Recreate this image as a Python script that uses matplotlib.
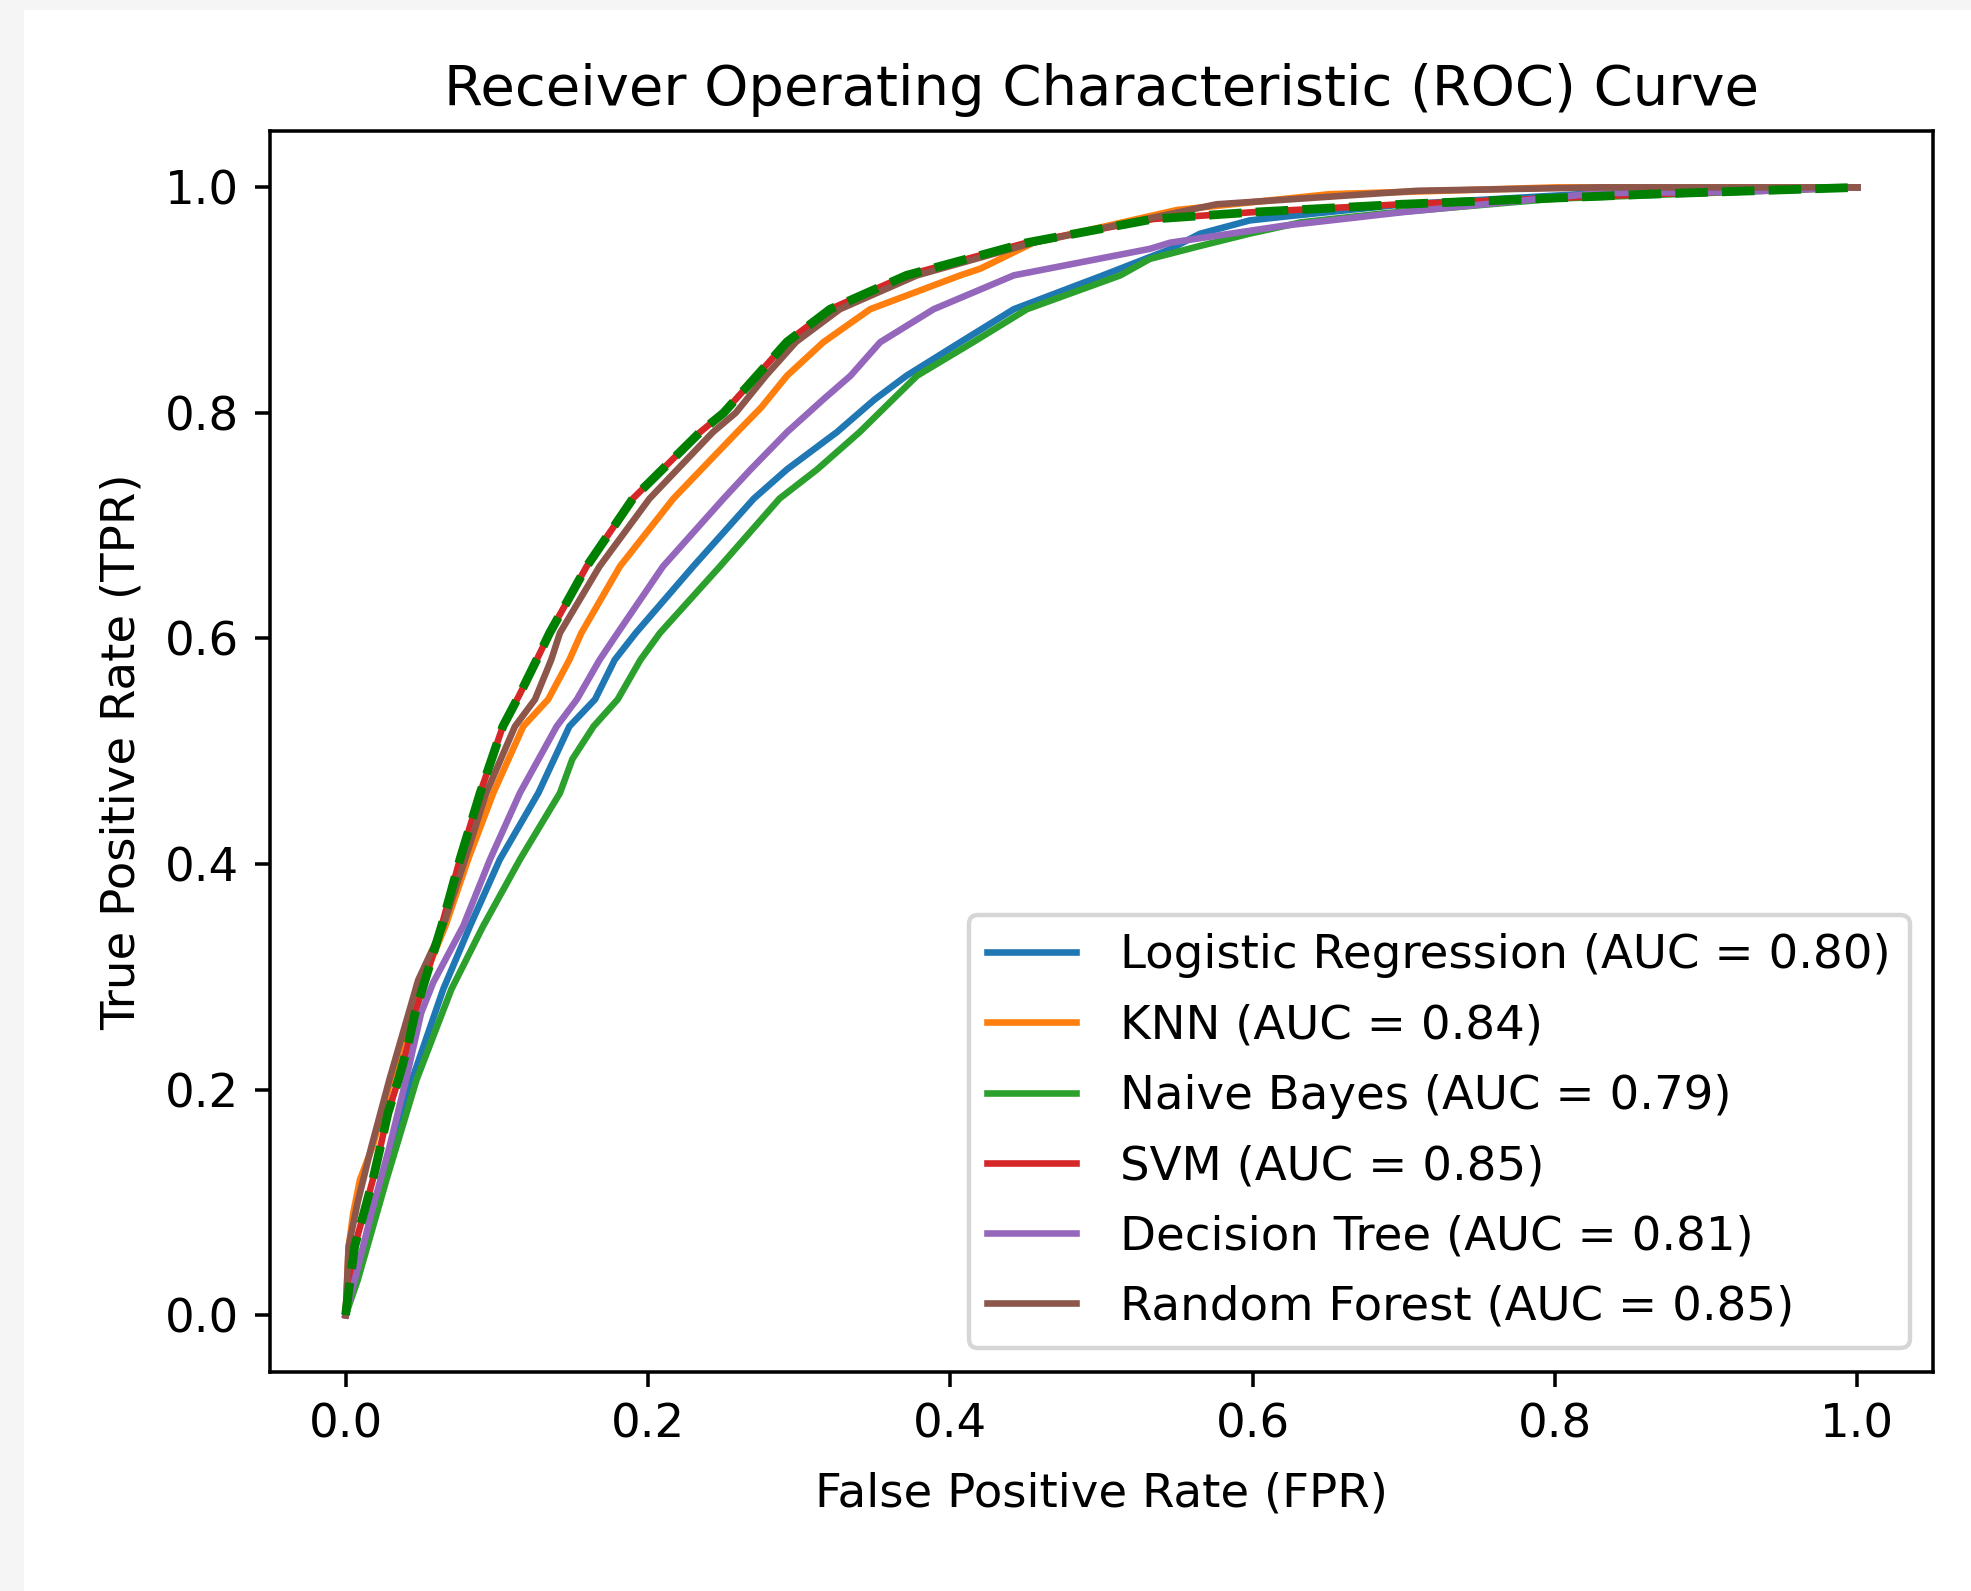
import matplotlib
matplotlib.use("Agg")
import matplotlib.pyplot as plt
from matplotlib.patches import Rectangle

# ---- data ----
lr_fpr = [0, 0.006, 0.018, 0.031, 0.044, 0.0646, 0.0823, 0.102, 0.1275, 0.148, 0.165, 0.178, 0.192,
          0.230, 0.270, 0.292, 0.325, 0.350, 0.371, 0.4066, 0.442, 0.501, 0.545, 0.565, 0.598, 0.6205,
          0.70, 0.83, 1.0]
lr_tpr = [0, 0.031, 0.090, 0.149, 0.209, 0.289, 0.345, 0.404, 0.463, 0.522, 0.546, 0.581, 0.605,
          0.664, 0.724, 0.750, 0.783, 0.812, 0.833, 0.8627, 0.892, 0.922, 0.945, 0.9588, 0.9707, 0.974,
          0.985, 0.995, 1.0]

knn_fpr = [0, 0.002, 0.005, 0.0095, 0.018, 0.030, 0.049, 0.066, 0.081, 0.0977, 0.1175, 0.134, 0.148,
           0.156, 0.1815, 0.2168, 0.259, 0.275, 0.292, 0.316, 0.347, 0.4066, 0.42, 0.455, 0.55, 0.651,
           0.80, 1.0]
knn_tpr = [0, 0.06, 0.09, 0.12, 0.15, 0.209, 0.29, 0.345, 0.404, 0.463, 0.522, 0.546, 0.581,
           0.605, 0.664, 0.724, 0.783, 0.805, 0.833, 0.8627, 0.892, 0.922, 0.928, 0.951, 0.98, 0.994,
           1.0, 1.0]

nb_fpr = [0, 0.008, 0.027, 0.047, 0.070, 0.091, 0.1153, 0.1418, 0.150, 0.164, 0.180, 0.195, 0.208,
          0.2477, 0.287, 0.312, 0.340, 0.362, 0.378, 0.415, 0.4507, 0.5125, 0.532, 0.565, 0.598,
          0.632, 0.687, 0.80, 1.0]
nb_tpr = [0, 0.031, 0.120, 0.209, 0.289, 0.345, 0.404, 0.463, 0.493, 0.522, 0.546, 0.581, 0.605,
          0.664, 0.724, 0.750, 0.783, 0.812, 0.833, 0.8627, 0.892, 0.922, 0.9366, 0.948, 0.959,
          0.969, 0.977, 0.990, 1.0]

svm_fpr = [0, 0.003, 0.006, 0.012, 0.018, 0.023, 0.028, 0.035, 0.041, 0.046, 0.051, 0.0635, 0.0756,
           0.089, 0.104, 0.115, 0.126, 0.135, 0.1595, 0.190, 0.2345, 0.250, 0.272, 0.292, 0.3205,
           0.371, 0.4507, 0.5345, 0.60, 0.698, 0.863, 1.0]
svm_tpr = [0, 0.031, 0.061, 0.090, 0.120, 0.149, 0.179, 0.209, 0.238, 0.268, 0.290, 0.345, 0.404,
           0.463, 0.522, 0.550, 0.580, 0.605, 0.664, 0.724, 0.783, 0.800, 0.833, 0.863, 0.892,
           0.922, 0.951, 0.972, 0.978, 0.985, 0.994, 1.0]

dt_fpr = [0, 0.006, 0.017, 0.029, 0.040, 0.050, 0.058, 0.0778, 0.0955, 0.1153, 0.1396, 0.153, 0.168,
          0.180, 0.210, 0.250, 0.268, 0.292, 0.316, 0.334, 0.3536, 0.389, 0.442, 0.532, 0.5455,
          0.6205, 0.699, 0.83, 0.92, 1.0]
dt_tpr = [0, 0.031, 0.090, 0.149, 0.209, 0.268, 0.295, 0.345, 0.404, 0.463, 0.522, 0.546, 0.581,
          0.605, 0.664, 0.724, 0.750, 0.783, 0.812, 0.833, 0.8627, 0.892, 0.922, 0.9455, 0.951,
          0.966, 0.978, 0.995, 0.996, 1.0]

rf_fpr = [0, 0.002, 0.008, 0.017, 0.029, 0.048, 0.0646, 0.079, 0.093, 0.112, 0.1253, 0.136, 0.1418,
          0.168, 0.201, 0.243, 0.258, 0.278, 0.298, 0.327, 0.378, 0.455, 0.576, 0.709, 0.83, 1.0]
rf_tpr = [0, 0.061, 0.10, 0.149, 0.209, 0.297, 0.345, 0.404, 0.463, 0.522, 0.546, 0.581, 0.605,
          0.664, 0.724, 0.783, 0.800, 0.833, 0.863, 0.892, 0.922, 0.951, 0.985, 0.997, 1.0, 1.0]

# unlabeled green dashed curve (lies on the SVM curve)
extra_fpr = list(svm_fpr)
extra_tpr = list(svm_tpr)

labels = ["Logistic Regression (AUC = 0.80)", "KNN (AUC = 0.84)", "Naive Bayes (AUC = 0.79)",
          "SVM (AUC = 0.85)", "Decision Tree (AUC = 0.81)", "Random Forest (AUC = 0.85)"]
curves = [(lr_fpr, lr_tpr), (knn_fpr, knn_tpr), (nb_fpr, nb_tpr),
          (svm_fpr, svm_tpr), (dt_fpr, dt_tpr), (rf_fpr, rf_tpr)]
colors = ["tab:blue", "tab:orange", "tab:green", "tab:red", "tab:purple", "tab:brown"]

plt.rcParams["font.size"] = 10.6

DPI = 317
fig = plt.figure(figsize=(1971 / DPI, 1591 / DPI), dpi=DPI, facecolor="#f5f5f5")
bg = Rectangle((24 / 1971, 0), 1 - 24 / 1971, 1 - 10 / 1591,
               transform=fig.transFigure, facecolor="white", edgecolor="none", zorder=-10)
fig.patches.append(bg)

ax = fig.add_axes([270 / 1971, (1591 - 1371.5) / 1591, (1933 - 270) / 1971, (1371.5 - 131) / 1591])
ax.set_zorder(1)

for (f, t), lab, c in zip(curves, labels, colors):
    ax.plot(f, t, color=c, label=lab, lw=1.5)
ax.plot(extra_fpr, extra_tpr, color="green", linestyle="--", lw=2)

ax.set_title("Receiver Operating Characteristic (ROC) Curve")
ax.set_xlabel("False Positive Rate (FPR)", labelpad=5.4)
ax.set_ylabel("True Positive Rate (TPR)", labelpad=4.6)
ax.legend(loc="lower right", handlelength=1.9, handletextpad=0.95, labelspacing=0.54)

fig.savefig("out.png", dpi=DPI, facecolor=fig.get_facecolor())
